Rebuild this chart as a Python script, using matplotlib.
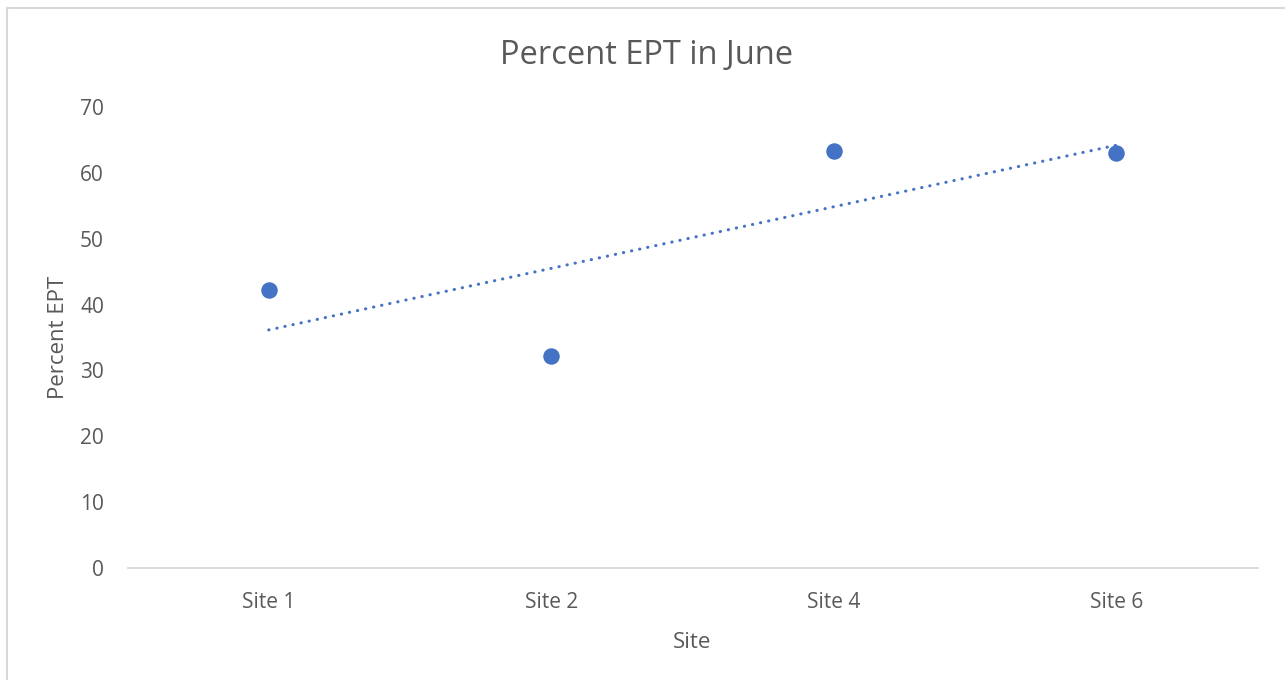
import numpy as np
import matplotlib.pyplot as plt
from matplotlib.patches import Rectangle

# Percent EPT per sampling site in June
sites = ['Site 1', 'Site 2', 'Site 4', 'Site 6']
pct_ept = [42.2, 32.2, 63.3, 63.0]

plt.rcParams['font.family'] = ['Open Sans', 'DejaVu Sans']
grey = '#595959'
blue = '#4472C4'

fig = plt.figure(figsize=(12.85, 6.8), dpi=100)
fig.patches.append(Rectangle((7 / 1285, -0.1), 1.2, (1 - 8 / 680) + 0.1,
                             transform=fig.transFigure, fill=False,
                             edgecolor='#d9d9d9', linewidth=1.5))

ax = fig.add_axes([127.5 / 1285, 1 - 568 / 680, 1130 / 1285, 461 / 680])
x = np.arange(len(sites))
ax.scatter(x, pct_ept, s=118, color=blue, zorder=3)

# linear trendline across the sites
slope, intercept = np.polyfit(x + 1, pct_ept, 1)
ax.plot(x, slope * (x + 1) + intercept, color=blue, linestyle=(0, (0.1, 2.6)),
        linewidth=2.2, dash_capstyle='round')

ax.set_xlim(-0.5, len(sites) - 0.5)
ax.set_ylim(0, 70)
ax.set_yticks(range(0, 71, 10))
ax.set_xticks(x)
ax.set_xticklabels(sites)

for side in ['top', 'right', 'left']:
    ax.spines[side].set_visible(False)
ax.spines['bottom'].set_color('#d9d9d9')
ax.spines['bottom'].set_linewidth(1.3)
ax.tick_params(axis='both', length=0, labelsize=15, labelcolor=grey)
ax.tick_params(axis='y', pad=17)
ax.tick_params(axis='x', pad=17)

fig.text(647 / 1285, 1 - 55 / 680, 'Percent EPT in June', fontsize=23.5,
         color=grey, ha='center', va='center')
ax.set_xlabel('Site', fontsize=16, color=grey, labelpad=14)
ax.set_ylabel('Percent EPT', fontsize=16, color=grey, labelpad=8)

fig.savefig('out.png', dpi=100)
